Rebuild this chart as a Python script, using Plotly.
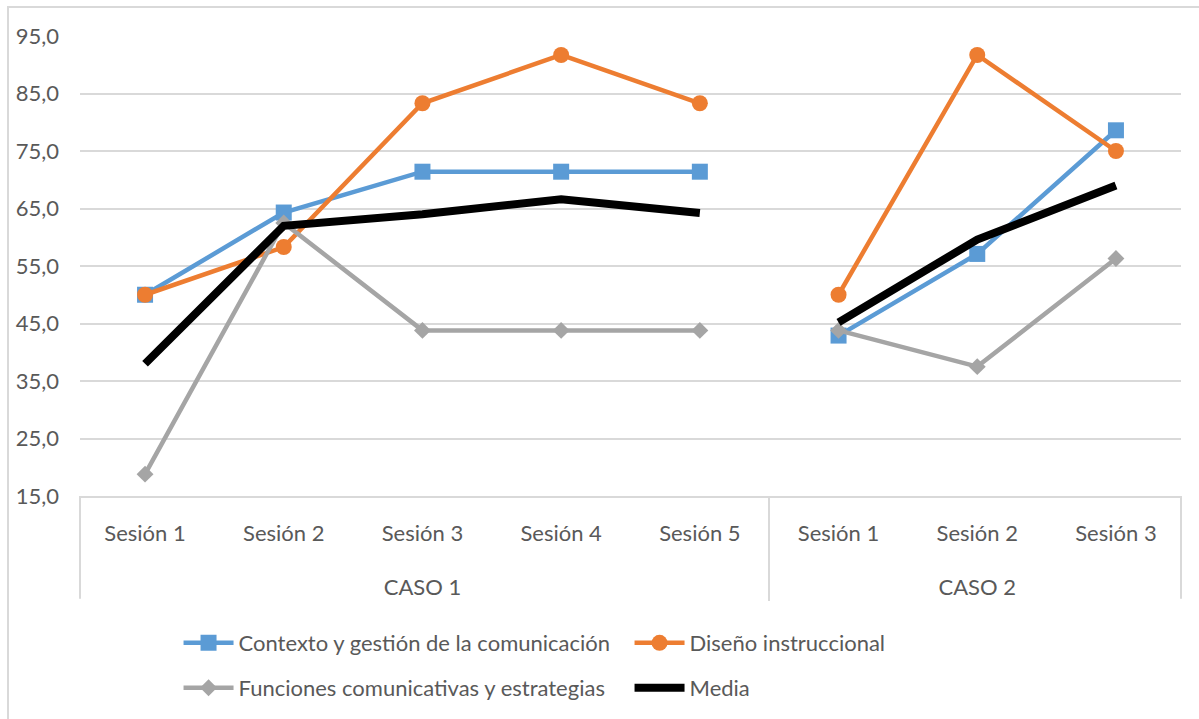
import plotly.graph_objects as go

# ---- data ----
case1_label = "CASO 1"
case2_label = "CASO 2"
case1_sessions = ["Sesión 1", "Sesión 2", "Sesión 3", "Sesión 4", "Sesión 5"]
case2_sessions = ["Sesión 1", "Sesión 2", "Sesión 3"]

series_names = [
    "Contexto y gestión de la comunicación",
    "Diseño instruccional",
    "Funciones comunicativas y estrategias",
    "Media",
]
contexto_c1 = [50.0, 64.3, 71.4, 71.4, 71.4]
contexto_c2 = [42.9, 57.1, 78.6]
diseno_c1 = [50.0, 58.3, 83.3, 91.7, 83.3]
diseno_c2 = [50.0, 91.7, 75.0]
funciones_c1 = [18.8, 62.5, 43.8, 43.8, 43.8]
funciones_c2 = [43.8, 37.5, 56.3]
media_c1 = [38.0, 62.0, 64.0, 66.6, 64.2]
media_c2 = [45.2, 59.6, 69.0]

y_ticks = [15, 25, 35, 45, 55, 65, 75, 85, 95]

# ---- styles ----
FONT = "Lato, Roboto, sans-serif"
TXT = "#595959"
GRID = "#d9d9d9"
W, H = 1199, 719
ML, MR, MT, MB = 80, 18, 36, 222
PW, PH = W - ML - MR, H - MT - MB


def lab(text, br=False):
    # visible size 22px; the axis font (27px) only sets the row spacing
    return ("<br>" if br else "") + "<span style='font-size:22px'>" + text + "</span>"


styles = [
    dict(color="#5B9BD5", width=4.5, symbol="square", size=16, mode="lines+markers", legend="legend"),
    dict(color="#ED7D31", width=4.5, symbol="circle", size=16, mode="lines+markers", legend="legend"),
    dict(color="#A5A5A5", width=4.5, symbol="diamond", size=13, mode="lines+markers", legend="legend2"),
    dict(color="#000000", width=8, symbol="circle", size=1, mode="lines", legend="legend2"),
]
values = [
    (contexto_c1, contexto_c2),
    (diseno_c1, diseno_c2),
    (funciones_c1, funciones_c2),
    (media_c1, media_c2),
]

fig = go.Figure()
x1 = [[lab(case1_label, True)] * len(case1_sessions), [lab(s) for s in case1_sessions]]
x2 = [[lab(case2_label, True)] * len(case2_sessions), [lab(s) for s in case2_sessions]]
for name, st, (v1, v2) in zip(series_names, styles, values):
    for i, (xx, yy) in enumerate([(x1, v1), (x2, v2)]):
        fig.add_trace(go.Scatter(
            x=xx, y=yy, name=name, mode=st["mode"],
            legendgroup=name, showlegend=(i == 0), legend=st["legend"],
            line=dict(color=st["color"], width=st["width"]),
            marker=dict(symbol=st["symbol"], size=st["size"], color=st["color"]),
        ))

leg_common = dict(
    orientation="h", x=0.0895, xanchor="left", yanchor="middle",
    font=dict(family=FONT, size=22, color=TXT),
    entrywidth=386, entrywidthmode="pixels", itemwidth=50,
    bgcolor="rgba(0,0,0,0)",
)

fig.update_layout(
    width=W, height=H,
    margin=dict(l=ML, r=MR, t=MT, b=MB),
    paper_bgcolor="white", plot_bgcolor="white",
    separators=", ",
    font=dict(family=FONT, size=22, color=TXT),
    xaxis=dict(
        type="multicategory",
        showgrid=False,
        showline=True, linecolor=GRID, linewidth=2,
        showdividers=True, dividercolor=GRID, dividerwidth=2,
        tickfont=dict(family=FONT, size=27, color=TXT),
        ticks="", ticklabelstandoff=11,
    ),
    yaxis=dict(
        range=[15, 95], tickvals=y_ticks, tickformat=".1f",
        showgrid=True, gridcolor=GRID, gridwidth=2,
        zeroline=False, showline=False,
        ticks="", ticklabelstandoff=20,
        tickfont=dict(family=FONT, size=22, color=TXT),
    ),
    legend=dict(leg_common, y=-(641 + 2 - (MT + PH)) / PH),
    legend2=dict(leg_common, y=-(686 + 2 - (MT + PH)) / PH),
    shapes=[
        # outer chart frame
        dict(type="rect", xref="paper", yref="paper",
             x0=-(ML - 8) / PW, x1=1.2, y0=-1.0, y1=1 + (MT - 7) / PH,
             line=dict(color=GRID, width=2), fillcolor="rgba(0,0,0,0)", layer="below"),
        # outer dividers of the category axis
        dict(type="line", xref="x domain", yref="paper", x0=0, x1=0, y0=0, y1=-103 / PH,
             line=dict(color=GRID, width=2)),
        dict(type="line", xref="x domain", yref="paper", x0=1, x1=1, y0=0, y1=-103 / PH,
             line=dict(color=GRID, width=2)),
    ],
)

fig.write_html("out.html", config={"displayModeBar": False},
               post_script="document.body.style.margin='0';")
